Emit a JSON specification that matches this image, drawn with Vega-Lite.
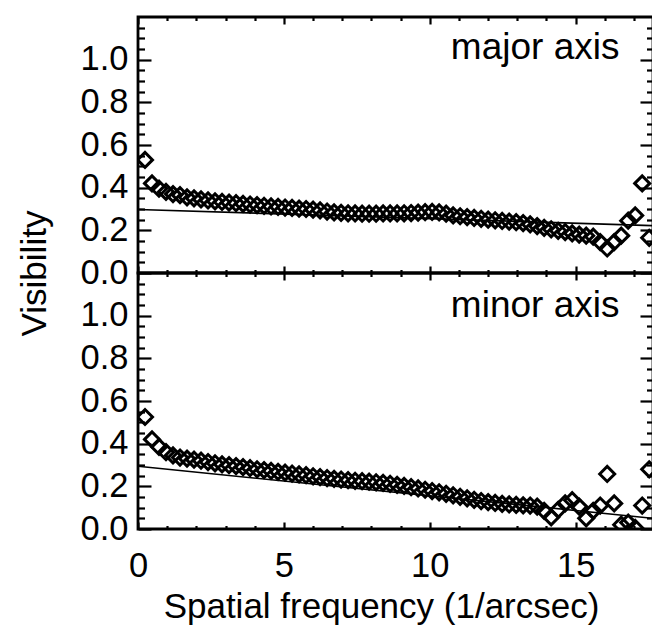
{
  "$schema": "https://vega.github.io/schema/vega-lite/v6.json",
  "autosize": {"type": "pad"},
  "padding": {"left": 15, "top": 8, "right": 0, "bottom": 0},
  "background": "white",
  "spacing": 0,
  "bounds": "flush",
  "config": {
    "view": {"stroke": "black", "strokeWidth": 2.8},
    "axis": {"labelFont": "Liberation Sans", "titleFont": "Liberation Sans", "labelColor": "black", "titleColor": "black", "tickColor": "black", "grid": false, "domain": false, "labelOverlap": false, "labelFlush": false, "titleFontWeight": "normal", "tickWidth": 2.2},
    "text": {"font": "Liberation Sans"}
  },
  "datasets": {
    "major": [
      {"freq":0.24,"vis":0.53},{"freq":0.48,"vis":0.42},{"freq":0.72,"vis":0.395},{"freq":0.96,"vis":0.38},{"freq":1.2,"vis":0.37},{"freq":1.44,"vis":0.365},{"freq":1.68,"vis":0.355},{"freq":1.92,"vis":0.35},{"freq":2.16,"vis":0.345},{"freq":2.4,"vis":0.34},{"freq":2.64,"vis":0.336},{"freq":2.88,"vis":0.333},{"freq":3.12,"vis":0.33},{"freq":3.36,"vis":0.327},{"freq":3.6,"vis":0.324},{"freq":3.84,"vis":0.321},{"freq":4.08,"vis":0.318},{"freq":4.32,"vis":0.315},{"freq":4.56,"vis":0.312},{"freq":4.8,"vis":0.31},{"freq":5.04,"vis":0.307},{"freq":5.28,"vis":0.305},{"freq":5.52,"vis":0.302},{"freq":5.76,"vis":0.3},{"freq":6.0,"vis":0.297},{"freq":6.24,"vis":0.293},{"freq":6.48,"vis":0.288},{"freq":6.72,"vis":0.284},{"freq":6.96,"vis":0.282},{"freq":7.2,"vis":0.28},{"freq":7.44,"vis":0.279},{"freq":7.68,"vis":0.278},{"freq":7.92,"vis":0.278},{"freq":8.16,"vis":0.278},{"freq":8.4,"vis":0.279},{"freq":8.64,"vis":0.279},{"freq":8.88,"vis":0.279},{"freq":9.12,"vis":0.28},{"freq":9.36,"vis":0.281},{"freq":9.6,"vis":0.283},{"freq":9.84,"vis":0.285},{"freq":10.08,"vis":0.286},{"freq":10.32,"vis":0.284},{"freq":10.56,"vis":0.278},{"freq":10.8,"vis":0.27},{"freq":11.04,"vis":0.266},{"freq":11.28,"vis":0.262},{"freq":11.52,"vis":0.258},{"freq":11.76,"vis":0.254},{"freq":12.0,"vis":0.25},{"freq":12.24,"vis":0.247},{"freq":12.48,"vis":0.244},{"freq":12.72,"vis":0.241},{"freq":12.96,"vis":0.238},{"freq":13.2,"vis":0.234},{"freq":13.44,"vis":0.228},{"freq":13.68,"vis":0.22},{"freq":13.92,"vis":0.212},{"freq":14.16,"vis":0.205},{"freq":14.4,"vis":0.198},{"freq":14.64,"vis":0.192},{"freq":14.88,"vis":0.186},{"freq":15.12,"vis":0.18},{"freq":15.36,"vis":0.175},{"freq":15.6,"vis":0.17},{"freq":15.84,"vis":0.145},{"freq":16.08,"vis":0.115},{"freq":16.32,"vis":0.145},{"freq":16.56,"vis":0.175},{"freq":16.8,"vis":0.245},{"freq":17.04,"vis":0.27},{"freq":17.28,"vis":0.42},{"freq":17.52,"vis":0.165}
    ],
    "minor": [
      {"freq":0.24,"vis":0.525},{"freq":0.48,"vis":0.42},{"freq":0.72,"vis":0.385},{"freq":0.96,"vis":0.36},{"freq":1.2,"vis":0.345},{"freq":1.44,"vis":0.335},{"freq":1.68,"vis":0.33},{"freq":1.92,"vis":0.325},{"freq":2.16,"vis":0.32},{"freq":2.4,"vis":0.314},{"freq":2.64,"vis":0.308},{"freq":2.88,"vis":0.303},{"freq":3.12,"vis":0.299},{"freq":3.36,"vis":0.295},{"freq":3.6,"vis":0.29},{"freq":3.84,"vis":0.285},{"freq":4.08,"vis":0.28},{"freq":4.32,"vis":0.276},{"freq":4.56,"vis":0.272},{"freq":4.8,"vis":0.268},{"freq":5.04,"vis":0.264},{"freq":5.28,"vis":0.26},{"freq":5.52,"vis":0.256},{"freq":5.76,"vis":0.252},{"freq":6.0,"vis":0.247},{"freq":6.24,"vis":0.243},{"freq":6.48,"vis":0.239},{"freq":6.72,"vis":0.235},{"freq":6.96,"vis":0.232},{"freq":7.2,"vis":0.229},{"freq":7.44,"vis":0.226},{"freq":7.68,"vis":0.224},{"freq":7.92,"vis":0.222},{"freq":8.16,"vis":0.219},{"freq":8.4,"vis":0.216},{"freq":8.64,"vis":0.212},{"freq":8.88,"vis":0.207},{"freq":9.12,"vis":0.202},{"freq":9.36,"vis":0.196},{"freq":9.6,"vis":0.19},{"freq":9.84,"vis":0.184},{"freq":10.08,"vis":0.178},{"freq":10.32,"vis":0.172},{"freq":10.56,"vis":0.165},{"freq":10.8,"vis":0.158},{"freq":11.04,"vis":0.151},{"freq":11.28,"vis":0.144},{"freq":11.52,"vis":0.137},{"freq":11.76,"vis":0.131},{"freq":12.0,"vis":0.126},{"freq":12.24,"vis":0.122},{"freq":12.48,"vis":0.118},{"freq":12.72,"vis":0.115},{"freq":12.96,"vis":0.113},{"freq":13.2,"vis":0.111},{"freq":13.44,"vis":0.11},{"freq":13.68,"vis":0.105},{"freq":13.92,"vis":0.085},{"freq":14.16,"vis":0.055},{"freq":14.4,"vis":0.09},{"freq":14.64,"vis":0.12},{"freq":14.88,"vis":0.135},{"freq":15.12,"vis":0.105},{"freq":15.36,"vis":0.05},{"freq":15.6,"vis":0.085},{"freq":15.84,"vis":0.11},{"freq":16.08,"vis":0.258},{"freq":16.32,"vis":0.12},{"freq":16.56,"vis":0.02},{"freq":16.8,"vis":0.03},{"freq":17.04,"vis":0.005},{"freq":17.28,"vis":0.11},{"freq":17.52,"vis":0.28}
    ],
    "fit_major": [{"freq":0,"vis":0.298},{"freq":17.65,"vis":0.222}],
    "fit_minor": [{"freq":0,"vis":0.294},{"freq":17.65,"vis":0.05}]
  },
  "vconcat": [
    {
      "width": 515,
      "height": 256,
      "layer": [
        {
          "data": {"name": "major"},
          "mark": {"type": "point", "shape": "diamond", "filled": false, "size": 225, "strokeWidth": 3, "color": "black", "opacity": 1, "clip": true},
          "encoding": {
            "x": {"field": "freq", "type": "quantitative", "scale": {"domain": [0, 17.65], "nice": false, "zero": false},
              "axis": {"orient": "bottom", "values": [0,1,2,3,4,5,6,7,8,9,10,11,12,13,14,15,16,17], "labels": false, "title": null,
                "tickSize": {"condition": {"test": "datum.value % 5 == 0", "value": -7}, "value": -3.5}}},
            "y": {"field": "vis", "type": "quantitative", "scale": {"domain": [0, 1.2], "nice": false, "zero": false},
              "axis": {"orient": "left", "values": [0,0.05,0.1,0.15,0.2,0.25,0.3,0.35,0.4,0.45,0.5,0.55,0.6,0.65,0.7,0.75,0.8,0.85,0.9,0.95,1.0,1.05,1.1,1.15],
                "tickSize": {"condition": {"test": "abs(datum.value*5 - round(datum.value*5)) < 0.001", "value": -13}, "value": -6.5},
                "labelExpr": "abs(datum.value*5 - round(datum.value*5)) < 0.001 ? format(datum.value, '.1f') : ''",
                "labelFontSize": 34.5, "labelPadding": 23,
                "title": "Visibility", "titleFontSize": 35, "titleX": -86, "titleY": 256, "titleAngle": -90, "titleBaseline": "bottom", "titleAlign": "center"}}
          }
        },
        {
          "data": {"name": "fit_major"},
          "mark": {"type": "line", "color": "black", "strokeWidth": 1.6, "clip": true},
          "encoding": {
            "x": {"field": "freq", "type": "quantitative", "scale": {"domain": [0, 17.65], "nice": false, "zero": false},
              "axis": {"orient": "top", "values": [0,1,2,3,4,5,6,7,8,9,10,11,12,13,14,15,16,17], "labels": false, "title": null,
                "tickSize": {"condition": {"test": "datum.value % 5 == 0", "value": -7}, "value": -3.5}}},
            "y": {"field": "vis", "type": "quantitative", "scale": {"domain": [0, 1.2], "nice": false, "zero": false},
              "axis": {"orient": "right", "values": [0,0.05,0.1,0.15,0.2,0.25,0.3,0.35,0.4,0.45,0.5,0.55,0.6,0.65,0.7,0.75,0.8,0.85,0.9,0.95,1.0,1.05,1.1,1.15], "labels": false, "title": null,
                "tickSize": {"condition": {"test": "abs(datum.value*5 - round(datum.value*5)) < 0.001", "value": -13}, "value": -6.5}}}
          }
        },
        {
          "data": {"values": [{"label": "major axis", "lx": 16.5, "ly": 1.005}]},
          "mark": {"type": "text", "align": "right", "baseline": "alphabetic", "fontSize": 37, "color": "black"},
          "encoding": {
            "x": {"field": "lx", "type": "quantitative", "axis": null},
            "y": {"field": "ly", "type": "quantitative", "axis": null},
            "text": {"field": "label"}
          }
        }
      ],
      "resolve": {"axis": {"x": "independent", "y": "independent"}}
    },
    {
      "width": 515,
      "height": 256,
      "layer": [
        {
          "data": {"name": "minor"},
          "mark": {"type": "point", "shape": "diamond", "filled": false, "size": 225, "strokeWidth": 3, "color": "black", "opacity": 1, "clip": true},
          "encoding": {
            "x": {"field": "freq", "type": "quantitative", "scale": {"domain": [0, 17.65], "nice": false, "zero": false},
              "axis": {"orient": "bottom", "values": [0,1,2,3,4,5,6,7,8,9,10,11,12,13,14,15,16,17],
                "tickSize": {"condition": {"test": "datum.value % 5 == 0", "value": -7}, "value": -3.5},
                "labelExpr": "datum.value % 5 == 0 ? datum.label : ''", "labelFontSize": 34.5, "labelBaseline": "alphabetic", "labelPadding": 54,
                "title": "Spatial frequency (1/arcsec)", "titleFontSize": 35, "titleBaseline": "alphabetic", "titleY": 88, "titleX": 243, "titleAlign": "center"}},
            "y": {"field": "vis", "type": "quantitative", "scale": {"domain": [0, 1.2], "nice": false, "zero": false},
              "axis": {"orient": "left", "values": [0,0.05,0.1,0.15,0.2,0.25,0.3,0.35,0.4,0.45,0.5,0.55,0.6,0.65,0.7,0.75,0.8,0.85,0.9,0.95,1.0,1.05,1.1,1.15],
                "tickSize": {"condition": {"test": "abs(datum.value*5 - round(datum.value*5)) < 0.001", "value": -13}, "value": -6.5},
                "labelExpr": "abs(datum.value*5 - round(datum.value*5)) < 0.001 ? format(datum.value, '.1f') : ''",
                "labelFontSize": 34.5, "labelPadding": 23, "title": null}}
          }
        },
        {
          "data": {"name": "fit_minor"},
          "mark": {"type": "line", "color": "black", "strokeWidth": 1.6, "clip": true},
          "encoding": {
            "x": {"field": "freq", "type": "quantitative", "scale": {"domain": [0, 17.65], "nice": false, "zero": false},
              "axis": {"orient": "top", "values": [0,1,2,3,4,5,6,7,8,9,10,11,12,13,14,15,16,17], "labels": false, "title": null,
                "tickSize": {"condition": {"test": "datum.value % 5 == 0", "value": -7}, "value": -3.5}}},
            "y": {"field": "vis", "type": "quantitative", "scale": {"domain": [0, 1.2], "nice": false, "zero": false},
              "axis": {"orient": "right", "values": [0,0.05,0.1,0.15,0.2,0.25,0.3,0.35,0.4,0.45,0.5,0.55,0.6,0.65,0.7,0.75,0.8,0.85,0.9,0.95,1.0,1.05,1.1,1.15], "labels": false, "title": null,
                "tickSize": {"condition": {"test": "abs(datum.value*5 - round(datum.value*5)) < 0.001", "value": -13}, "value": -6.5}}}
          }
        },
        {
          "data": {"values": [{"label": "minor axis", "lx": 16.5, "ly": 0.995}]},
          "mark": {"type": "text", "align": "right", "baseline": "alphabetic", "fontSize": 37, "color": "black"},
          "encoding": {
            "x": {"field": "lx", "type": "quantitative", "axis": null},
            "y": {"field": "ly", "type": "quantitative", "axis": null},
            "text": {"field": "label"}
          }
        }
      ],
      "resolve": {"axis": {"x": "independent", "y": "independent"}}
    }
  ]
}
